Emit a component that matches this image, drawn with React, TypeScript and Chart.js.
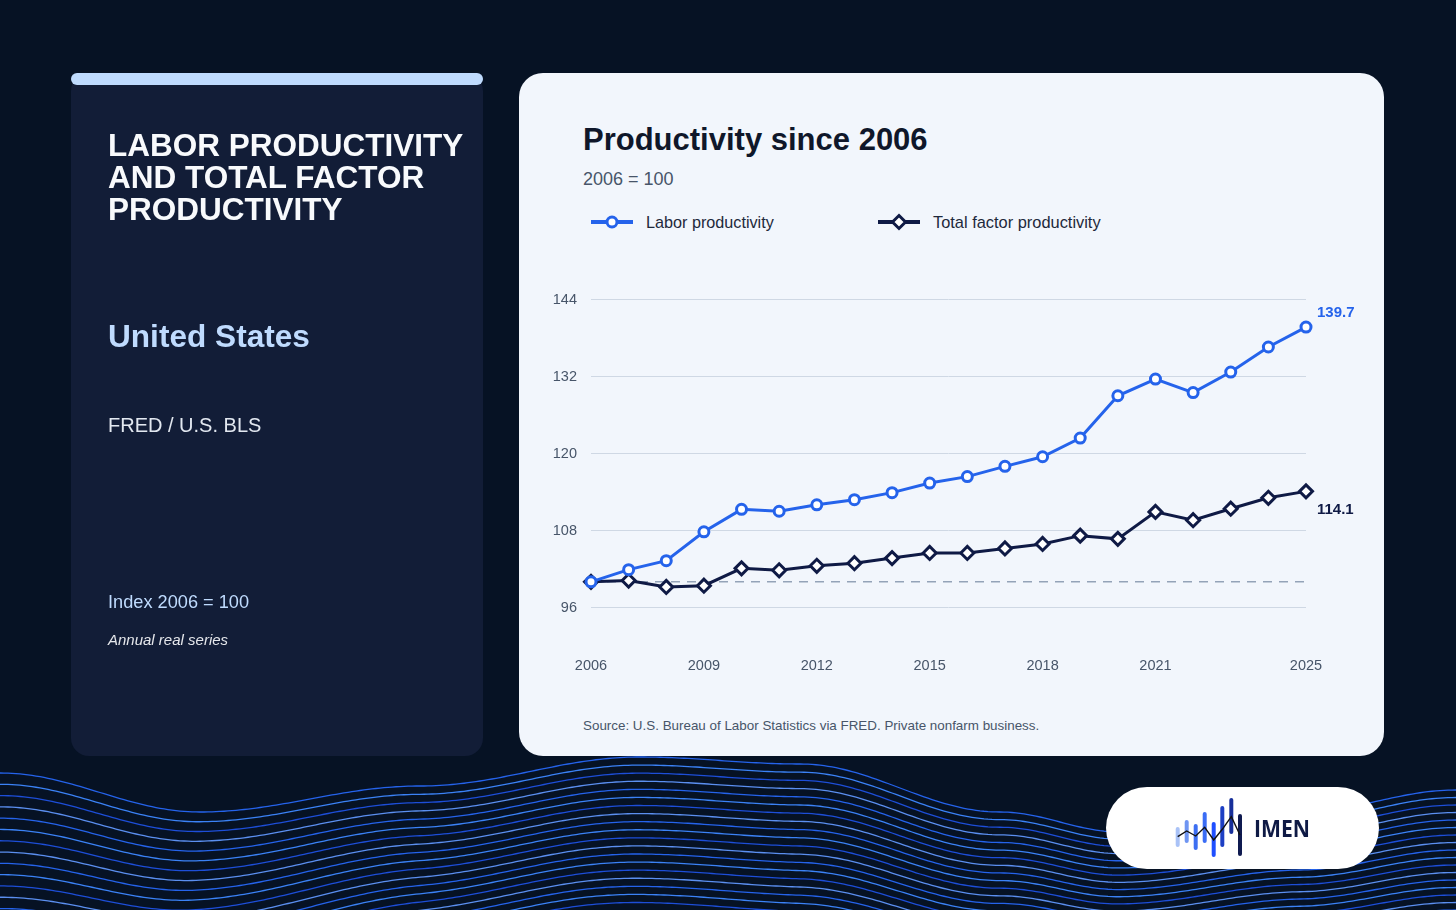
import { useEffect, useRef } from 'react';
import { Chart, registerables } from 'chart.js';

Chart.register(...registerables);

// Values (index, 2006 = 100)
const years = ['2006', '2007', '2008', '2009', '2010', '2011', '2012', '2013', '2014', '2015', '2016', '2017', '2018', '2019', '2020', '2021', '2022', '2023', '2024', '2025'];
const laborProductivity = [100.0, 101.9, 103.3, 107.8, 111.3, 111.0, 112.0, 112.8, 113.9, 115.4, 116.4, 118.0, 119.5, 122.4, 129.0, 131.6, 129.5, 132.7, 136.6, 139.7];
const totalFactorProductivity = [100.0, 100.2, 99.2, 99.4, 102.1, 101.8, 102.5, 102.9, 103.7, 104.5, 104.5, 105.2, 105.9, 107.2, 106.7, 110.9, 109.6, 111.4, 113.1, 114.1];
const yTickValues = [96, 108, 120, 132, 144];
const xTickLabels = ['2006', '2009', '2012', '2015', '2018', '2021', '2025'];
const baselineValue = 100;
const seriesNames = ['Labor productivity', 'Total factor productivity'];

const FONT = "'Liberation Sans', Arial, sans-serif";
const BLUE = '#2563eb';
const NAVY = '#0f1a45';

// dashed reference line at 100
const baselinePlugin = {
  id: 'baseline',
  beforeDatasetsDraw(chart: any) {
    const { ctx, chartArea, scales } = chart;
    const y = scales.y.getPixelForValue(baselineValue);
    ctx.save();
    ctx.strokeStyle = '#94a3b8';
    ctx.lineWidth = 1.5;
    ctx.setLineDash([9, 7]);
    ctx.beginPath();
    ctx.moveTo(chartArea.left, y);
    ctx.lineTo(chartArea.right, y);
    ctx.stroke();
    ctx.restore();
  },
};

// last value printed next to each line
const endLabelPlugin = {
  id: 'endLabels',
  afterDatasetsDraw(chart: any) {
    const { ctx } = chart;
    const offsets = [-14, 18];
    chart.data.datasets.forEach((ds: any, i: number) => {
      const meta = chart.getDatasetMeta(i);
      const pt = meta.data[meta.data.length - 1];
      if (!pt) return;
      ctx.save();
      ctx.font = `bold 15px ${FONT}`;
      ctx.fillStyle = ds.borderColor;
      ctx.textBaseline = 'middle';
      ctx.textAlign = 'left';
      ctx.fillText(ds.data[ds.data.length - 1].toFixed(1), pt.x + 11, pt.y + offsets[i]);
      ctx.restore();
    });
  },
};

const waveTop: [number, number][] = [[0, 773], [200, 812], [420, 786], [640, 757], [800, 764], [1000, 812], [1120, 832], [1300, 812], [1456, 790]];
const waveGap: [number, number][] = [[0, 11], [600, 7.5], [1000, 8], [1456, 7.5]];

function interp(pts: [number, number][], x: number) {
  for (let i = 0; i < pts.length - 1; i++) {
    const [x0, y0] = pts[i];
    const [x1, y1] = pts[i + 1];
    if (x >= x0 && x <= x1) {
      const t = (x - x0) / (x1 - x0);
      const s = (1 - Math.cos(Math.PI * t)) / 2;
      return y0 + (y1 - y0) * s;
    }
  }
  return pts[pts.length - 1][1];
}

const Waves = () => {
  const ref = useRef<HTMLCanvasElement>(null);
  useEffect(() => {
    const c = ref.current;
    if (!c) return;
    const ctx = c.getContext('2d');
    if (!ctx) return;
    ctx.clearRect(0, 0, c.width, c.height);
    const colors = ['#2563eb', '#3b82f6', '#1d4ed8', '#5b8ff0'];
    const n = 26;
    for (let i = 0; i < n; i++) {
      ctx.beginPath();
      for (let x = 0; x <= 1456; x += 4) {
        const top = interp(waveTop, x);
        const gap = interp(waveGap, x);
        const flatten = (i / n) * 0.45;
        const y = top + i * gap - (top - 790) * flatten;
        if (x === 0) ctx.moveTo(x, y);
        else ctx.lineTo(x, y);
      }
      ctx.strokeStyle = colors[i % colors.length];
      ctx.lineWidth = 1.3;
      ctx.stroke();
    }
  }, []);
  return <canvas ref={ref} width={1456} height={910} style={{ position: 'absolute', left: 0, top: 0 }} />;
};

const LegendIcon = ({ color, diamond }: { color: string; diamond?: boolean }) => (
  <svg width="42" height="18" style={{ display: 'block' }}>
    <line x1="0" y1="9" x2="42" y2="9" stroke={color} strokeWidth="4" />
    {diamond ? (
      <polygon points="21,2.5 27.5,9 21,15.5 14.5,9" fill="#fff" stroke={color} strokeWidth="3" />
    ) : (
      <circle cx="21" cy="9" r="5" fill="#fff" stroke={color} strokeWidth="3" />
    )}
  </svg>
);

const ProductivityChart = () => {
  const chartRef = useRef<HTMLCanvasElement>(null);
  const chartInstance = useRef<Chart | null>(null);

  useEffect(() => {
    if (!chartRef.current) return;
    if (chartInstance.current) chartInstance.current.destroy();
    const ctx = chartRef.current.getContext('2d');
    if (!ctx) return;

    chartInstance.current = new Chart(ctx, {
      type: 'line',
      data: {
        labels: years,
        datasets: [
          {
            label: seriesNames[0],
            data: laborProductivity,
            borderColor: BLUE,
            backgroundColor: BLUE,
            borderWidth: 3,
            pointStyle: 'circle',
            pointRadius: 5,
            pointBorderWidth: 3,
            pointBackgroundColor: '#ffffff',
            pointBorderColor: BLUE,
            tension: 0,
            clip: false,
          },
          {
            label: seriesNames[1],
            data: totalFactorProductivity,
            borderColor: NAVY,
            backgroundColor: NAVY,
            borderWidth: 3,
            pointStyle: 'rectRot',
            pointRadius: 6.5,
            pointBorderWidth: 3,
            pointBackgroundColor: '#ffffff',
            pointBorderColor: NAVY,
            tension: 0,
            clip: false,
          },
        ],
      },
      options: {
        animation: false,
        responsive: true,
        maintainAspectRatio: false,
        layout: { padding: { top: 5, right: 64, bottom: 0, left: 0 } },
        plugins: {
          legend: { display: false },
          tooltip: { enabled: false },
        },
        scales: {
          x: {
            grid: { display: false, drawTicks: false },
            border: { display: false },
            ticks: {
              autoSkip: false,
              maxRotation: 0,
              padding: 11,
              color: '#475569',
              font: { family: FONT, size: 14.5 },
              callback: (_v: any, idx: number) => (xTickLabels.includes(years[idx]) ? years[idx] : null),
            },
            afterFit: (scale: any) => {
              scale.height = 40;
            },
          },
          y: {
            min: 90,
            max: 146,
            grid: { color: '#cfd8e4', lineWidth: 1, drawTicks: false },
            border: { display: false },
            ticks: {
              padding: 14,
              color: '#475569',
              font: { family: FONT, size: 14.5 },
            },
            afterBuildTicks: (axis: any) => {
              axis.ticks = yTickValues.map((v) => ({ value: v }));
            },
            afterFit: (scale: any) => {
              scale.width = 51;
            },
          },
        },
      },
      plugins: [baselinePlugin, endLabelPlugin],
    });

    return () => {
      if (chartInstance.current) {
        chartInstance.current.destroy();
        chartInstance.current = null;
      }
    };
  }, []);

  return <canvas ref={chartRef}></canvas>;
};

const abs = (left: number, top: number, extra: any = {}) => ({ position: 'absolute' as const, left, top, ...extra });

const App = () => {
  return (
    <div
      style={{
        position: 'fixed',
        left: 0,
        top: 0,
        width: 1456,
        height: 910,
        overflow: 'hidden',
        background: '#061224',
        fontFamily: FONT,
      }}
    >
      <Waves />

      {/* left panel */}
      <div style={abs(71, 73, { width: 412, height: 683, background: '#121d37', borderRadius: 18 })}>
        <div style={abs(0, 0, { width: 412, height: 12, background: '#bfdbfe', borderRadius: 6 })} />
        <div
          style={abs(37, 56, {
            color: '#f8fafc',
            fontWeight: 'bold',
            fontSize: 31.5,
            lineHeight: '32px',
            width: 375,
          })}
        >
          LABOR PRODUCTIVITY
          <br />
          AND TOTAL FACTOR
          <br />
          PRODUCTIVITY
        </div>
        <div style={abs(37, 245, { color: '#bfdbfe', fontWeight: 'bold', fontSize: 31.6, lineHeight: '36px' })}>United States</div>
        <div style={abs(37, 340, { color: '#e2e8f0', fontSize: 20, lineHeight: '24px' })}>FRED / U.S. BLS</div>
        <div style={abs(37, 518, { color: '#bfdbfe', fontSize: 18.2, lineHeight: '22px' })}>Index 2006 = 100</div>
        <div style={abs(37, 558, { color: '#e5e7eb', fontSize: 15, fontStyle: 'italic', lineHeight: '18px' })}>
          Annual real series
        </div>
      </div>

      {/* chart card */}
      <div style={abs(519, 73, { width: 865, height: 683, background: '#f2f6fc', borderRadius: 24 })}>
        <div style={abs(64, 49, { color: '#0f172a', fontWeight: 'bold', fontSize: 31, lineHeight: '36px' })}>
          Productivity since 2006
        </div>
        <div style={abs(64, 95, { color: '#475569', fontSize: 18, lineHeight: '22px' })}>2006 = 100</div>

        <div style={abs(72, 140, { display: 'flex', alignItems: 'center', height: 18 })}>
          <LegendIcon color={BLUE} />
          <span style={{ marginLeft: 13, fontSize: 16.2, color: '#1e293b', lineHeight: '18px' }}>{seriesNames[0]}</span>
        </div>
        <div style={abs(359, 140, { display: 'flex', alignItems: 'center', height: 18 })}>
          <LegendIcon color={NAVY} diamond />
          <span style={{ marginLeft: 13, fontSize: 16.4, color: '#1e293b', lineHeight: '18px' }}>{seriesNames[1]}</span>
        </div>

        <div style={abs(21, 191, { width: 830, height: 422 })}>
          <ProductivityChart />
        </div>

        <div style={abs(64, 645, { color: '#475569', fontSize: 13.4, lineHeight: '16px' })}>
          Source: U.S. Bureau of Labor Statistics via FRED. Private nonfarm business.
        </div>
      </div>

      {/* logo pill */}
      <div style={abs(1106, 787, { width: 273, height: 82, background: '#ffffff', borderRadius: 41 })}>
        <svg width="273" height="82" style={{ position: 'absolute', left: 0, top: 0 }}>
          <g strokeLinecap="round" strokeWidth="4">
            <line x1="71.7" y1="42" x2="71.7" y2="58" stroke="#a9c2f7" />
            <line x1="80.7" y1="35" x2="80.7" y2="54" stroke="#6f95f2" />
            <line x1="89.7" y1="39" x2="89.7" y2="61" stroke="#3d6ff2" />
            <line x1="98.7" y1="27" x2="98.7" y2="54" stroke="#3b6df5" />
            <line x1="107.7" y1="37" x2="107.7" y2="68" stroke="#1f4fff" />
            <line x1="116.3" y1="21" x2="116.3" y2="58" stroke="#1d3fc4" />
            <line x1="125.3" y1="13" x2="125.3" y2="45" stroke="#172f9a" />
            <line x1="134" y1="29" x2="134" y2="67" stroke="#0f1a50" />
          </g>
          <polyline
            points="71.7,49.7 80.7,44 89.7,49 98.7,40.3 107.7,53 116.3,42.3 125.3,29.7 134,48"
            fill="none"
            stroke="#111111"
            strokeWidth="1.4"
          />
          <text
            x="148"
            y="49.5"
            fontFamily="'Open Sans', 'DejaVu Sans', sans-serif"
            fontWeight="700"
            fontSize="23"
            textLength="56"
            lengthAdjust="spacingAndGlyphs"
            fill={NAVY}
          >
            IMEN
          </text>
        </svg>
      </div>
    </div>
  );
};

export default App;
